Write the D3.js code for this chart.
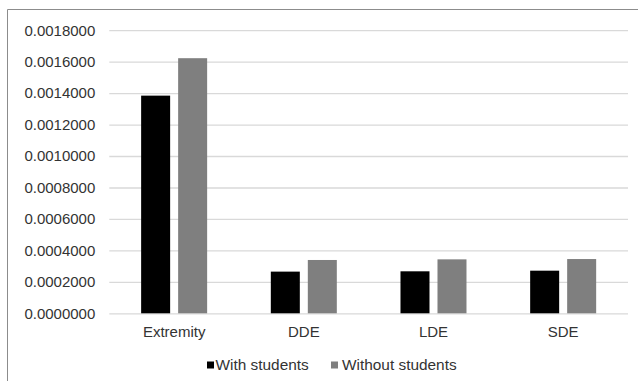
<!DOCTYPE html>
<html>
<head>
<meta charset="utf-8">
<script src="https://cdn.jsdelivr.net/npm/d3@7"></script>
<style>
  html, body { margin: 0; padding: 0; background: #fff; }
  svg { display: block; font-family: "Liberation Sans", Arial, sans-serif; }
</style>
</head>
<body>
<svg id="chart" width="638" height="381"></svg>
<script>
// Categories and series values
const categories = ["Extremity", "DDE", "LDE", "SDE"];
const seriesNames = ["With students", "Without students"];
const withStudents = [0.001384, 0.000265, 0.000267, 0.000271];
const withoutStudents = [0.001622, 0.000339, 0.000343, 0.000345];
const yTicks = [0, 0.0002, 0.0004, 0.0006, 0.0008, 0.0010, 0.0012, 0.0014, 0.0016, 0.0018];
const colors = ["#000000", "#7f7f7f"];

const svg = d3.select("#chart");
const W = 638, H = 381;
const margin = { left: 109.3, top: 30.2 };
const plotRight = 628;
const plotBottom = 313.3;

// Outer frame (left and top edges visible)
svg.append("line").attr("x1", 7.5).attr("x2", 7.5).attr("y1", 9.5).attr("y2", H)
  .attr("stroke", "#8c8c8c").attr("stroke-width", 1);
svg.append("line").attr("x1", 7.5).attr("x2", W).attr("y1", 9.5).attr("y2", 9.5)
  .attr("stroke", "#8c8c8c").attr("stroke-width", 1);

const x0 = d3.scaleBand().domain(categories).range([margin.left, plotRight]).paddingInner(0).paddingOuter(0);
const y = d3.scaleLinear().domain([0, 0.0018]).range([plotBottom, margin.top]);

// Gridlines and y labels via axis
const yAxis = d3.axisLeft(y).tickValues(yTicks).tickFormat(d3.format(".7f"))
  .tickSize(-(plotRight - margin.left)).tickPadding(14);
const gy = svg.append("g").attr("transform", `translate(${margin.left},0)`).call(yAxis);
gy.select(".domain").remove();
gy.selectAll(".tick line").attr("stroke", "#d9d9d9").attr("stroke-width", 1.3);
gy.selectAll(".tick text").attr("fill", "#333").attr("font-size", 15)
  .attr("font-family", "'Liberation Sans', Arial, sans-serif");

// Bars
const barW = 29, gap = 8;
const series = [withStudents, withoutStudents];
series.forEach((vals, si) => {
  svg.append("g").selectAll("rect").data(categories).join("rect")
    .attr("x", (c) => x0(c) + x0.bandwidth() / 2 - (barW + gap / 2) + si * (barW + gap))
    .attr("y", (c, i) => y(vals[i]))
    .attr("width", barW)
    .attr("height", (c, i) => plotBottom - y(vals[i]))
    .attr("fill", colors[si]);
});

// X axis labels
const xAxis = d3.axisBottom(x0).tickSize(0).tickPadding(13);
const gx = svg.append("g").attr("transform", `translate(0,${plotBottom})`).call(xAxis);
gx.select(".domain").remove();
gx.selectAll(".tick text").attr("fill", "#333").attr("font-size", 15)
  .attr("font-family", "'Liberation Sans', Arial, sans-serif");

// Legend
const legend = svg.append("g");
const legendX = [207, 331];
const textX = [215.5, 342];
seriesNames.forEach((name, i) => {
  legend.append("rect").attr("x", legendX[i]).attr("y", 361.5).attr("width", 7).attr("height", 7)
    .attr("fill", colors[i]);
  legend.append("text").attr("x", textX[i]).attr("y", 370)
    .attr("font-size", 15.4).attr("fill", "#333").text(name);
});
</script>
</body>
</html>
